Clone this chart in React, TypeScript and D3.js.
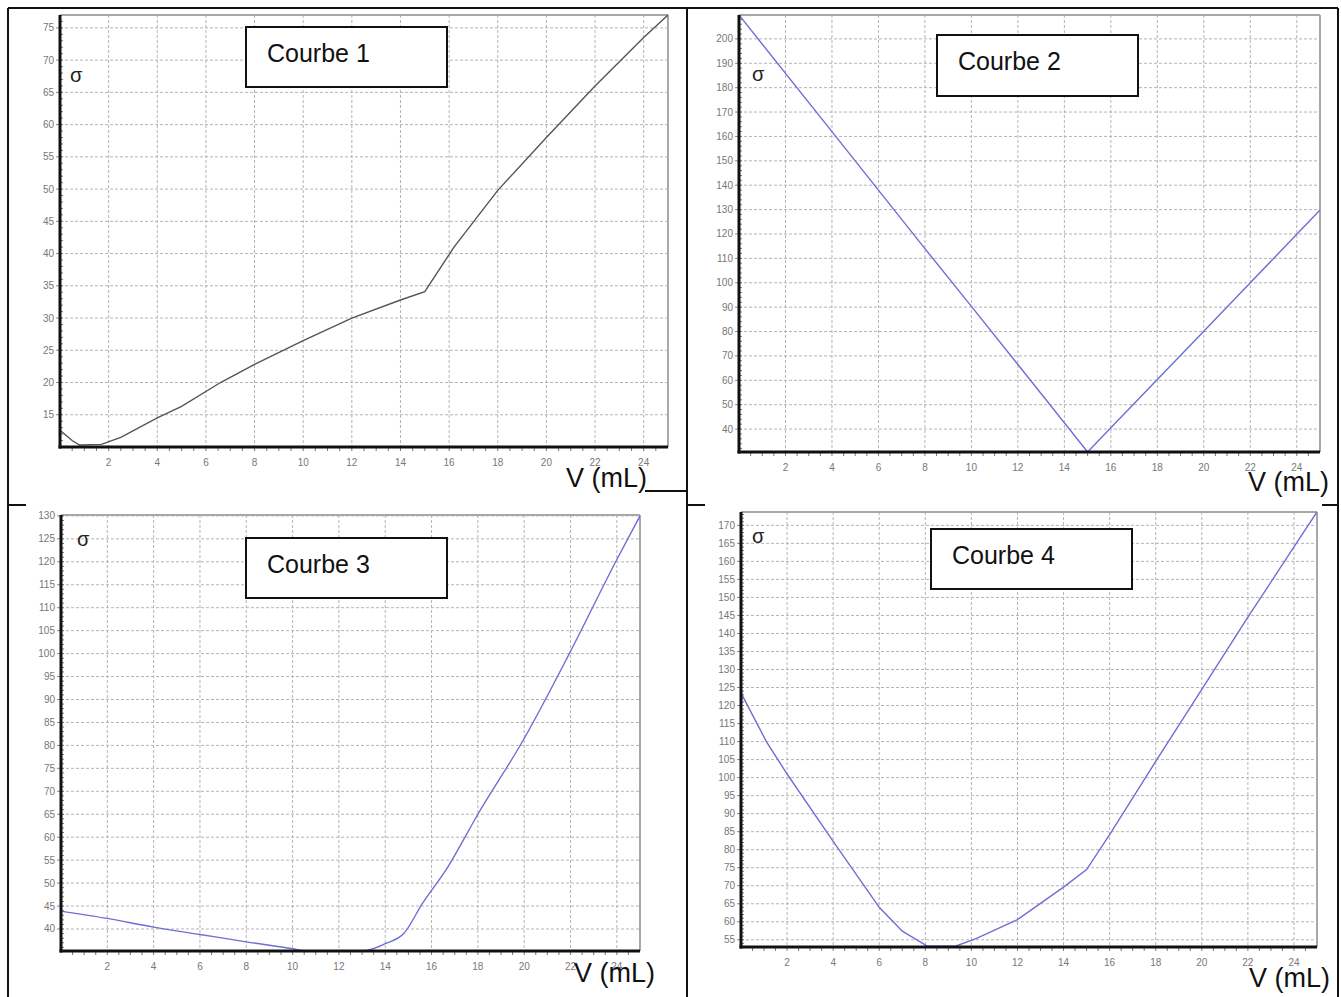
import React from 'react';
import * as d3 from 'd3';

const W = 1341;
const H = 997;

// V (mL) ticks shared by the 4 plots
const xTicks = [2, 4, 6, 8, 10, 12, 14, 16, 18, 20, 22, 24];

// Courbe 1
const v1 = [0, 0.5, 0.8, 1.7, 2.5, 4, 5, 6.6, 8, 10, 12, 14, 15, 16.2, 18, 20, 22, 24, 25];
const s1 = [12.6, 11, 10.3, 10.4, 11.5, 14.5, 16.3, 20, 22.8, 26.5, 30, 32.8, 34.1, 41, 49.8, 58, 66, 73.5, 77];
const yTicks1 = [15, 20, 25, 30, 35, 40, 45, 50, 55, 60, 65, 70, 75];

// Courbe 2
const v2 = [0, 4, 8, 10, 12, 15, 16, 18, 20, 22, 25];
const s2 = [209.8, 162, 114, 90.3, 66.5, 30.6, 40.5, 60.3, 80.1, 100, 129.8];
const yTicks2 = [40, 50, 60, 70, 80, 90, 100, 110, 120, 130, 140, 150, 160, 170, 180, 190, 200];

// Courbe 3
const v3 = [0, 2, 4, 6, 8, 10, 10.6, 13, 14, 14.8, 15.6, 16.7, 18, 20, 22, 24, 25];
const s3 = [43.9, 42.3, 40.4, 38.8, 37.2, 35.7, 35.2, 35.2, 36.8, 39, 45.5, 53.5, 65, 81.5, 100.5, 120.5, 130];
const yTicks3 = [40, 45, 50, 55, 60, 65, 70, 75, 80, 85, 90, 95, 100, 105, 110, 115, 120, 125, 130];

// Courbe 4
const v4 = [0, 1.1, 2, 4, 6, 7, 8.1, 9.3, 10.2, 12, 14, 15, 16, 18, 20, 22, 24, 25];
const s4 = [123.5, 110, 101, 82.3, 64, 57.4, 53.2, 53.2, 55.3, 60.6, 69.6, 74.5, 84.2, 104.5, 124.5, 144.5, 164, 173.7];
const yTicks4 = [55, 60, 65, 70, 75, 80, 85, 90, 95, 100, 105, 110, 115, 120, 125, 130, 135, 140, 145, 150, 155, 160, 165, 170];

const font = 'Liberation Sans, Arial, sans-serif';

type PanelProps = {
  id: string;
  box: { l: number; r: number; t: number; b: number };
  yDomain: [number, number];
  yTicks: number[];
  yMinor: number;
  v: number[];
  s: number[];
  color: string;
  smooth?: boolean;
  title: string;
  titleBox: { x: number; y: number; w: number; h: number };
  sigma: { x: number; y: number };
  vLabel: { x: number; y: number };
};

function Panel(p: PanelProps) {
  const { box } = p;
  const x = d3.scaleLinear().domain([0, 25]).range([box.l, box.r]);
  const y = d3.scaleLinear().domain(p.yDomain).range([box.b, box.t]);
  const line = d3
    .line<number>()
    .x((_, i) => x(p.v[i]))
    .y((d) => y(d))
    .curve(p.smooth ? d3.curveMonotoneX : d3.curveLinear);

  const xMinor = d3.range(0.5, 25, 0.5);
  const yMinor = d3.range(Math.ceil(p.yDomain[0] / p.yMinor) * p.yMinor, p.yDomain[1], p.yMinor);

  return (
    <g>
      <defs>
        <clipPath id={p.id}>
          <rect x={box.l} y={box.t - 1} width={box.r - box.l} height={box.b - box.t + 1} />
        </clipPath>
      </defs>
      {/* grid */}
      {xTicks.map((t) => (
        <line key={'gx' + t} x1={x(t)} x2={x(t)} y1={box.t} y2={box.b}
          stroke="#b4b4b4" strokeWidth={1} strokeDasharray="3,2" />
      ))}
      {p.yTicks.map((t) => (
        <line key={'gy' + t} x1={box.l} x2={box.r} y1={y(t)} y2={y(t)}
          stroke="#b4b4b4" strokeWidth={1} strokeDasharray="3,2" />
      ))}
      {/* frame */}
      <line x1={box.l} x2={box.r} y1={box.t} y2={box.t} stroke="#a8a8a8" strokeWidth={2} />
      <line x1={box.r} x2={box.r} y1={box.t} y2={box.b} stroke="#a8a8a8" strokeWidth={2} />
      {/* minor ticks */}
      {xMinor.map((t) => (
        <line key={'mx' + t} x1={x(t)} x2={x(t)} y1={box.b} y2={box.b + 4} stroke="#777" strokeWidth={1} />
      ))}
      {yMinor.map((t) => (
        <line key={'my' + t} x1={box.l} x2={box.l + 3} y1={y(t)} y2={y(t)} stroke="#777" strokeWidth={1} />
      ))}
      {/* tick labels */}
      {xTicks.map((t) => (
        <text key={'tx' + t} x={x(t)} y={box.b + 19} textAnchor="middle"
          fontFamily={font} fontSize={10} fill="#777">{t}</text>
      ))}
      {p.yTicks.map((t) => (
        <g key={'ty' + t}>
          <line x1={box.l - 4} x2={box.l} y1={y(t)} y2={y(t)} stroke="#888" strokeWidth={1} />
          <text x={box.l - 6} y={y(t) + 3.5} textAnchor="end"
            fontFamily={font} fontSize={10} fill="#777">{t}</text>
        </g>
      ))}
      {/* curve */}
      <path d={line(p.s) || ''} fill="none" stroke={p.color} strokeWidth={1.4} clipPath={`url(#${p.id})`} />
      {/* axes */}
      <line x1={box.l} x2={box.l} y1={box.t} y2={box.b + 1.5} stroke="#111" strokeWidth={3} />
      <line x1={box.l - 1.5} x2={box.r} y1={box.b} y2={box.b} stroke="#111" strokeWidth={3} />
      <text x={p.sigma.x} y={p.sigma.y} fontFamily={font} fontSize={20} fill="#222">σ</text>
      <rect x={p.titleBox.x} y={p.titleBox.y} width={p.titleBox.w} height={p.titleBox.h}
        fill="#fff" stroke="#111" strokeWidth={2} />
      <text x={p.titleBox.x + 21} y={p.titleBox.y + 35} fontFamily={font} fontSize={25} fill="#111">{p.title}</text>
      <text x={p.vLabel.x} y={p.vLabel.y} fontFamily={font} fontSize={27} fill="#111">V (mL)</text>
    </g>
  );
}

export default function App() {
  return (
    <svg width={W} height={H} style={{ position: 'absolute', left: 0, top: 0, background: '#fff' }}>
      <rect x={0} y={0} width={W} height={H} fill="#fff" />
      {/* table borders */}
      <g stroke="#111" strokeWidth={2}>
        <line x1={8} x2={1338} y1={8} y2={8} />
        <line x1={8} x2={8} y1={8} y2={H} />
        <line x1={687} x2={687} y1={8} y2={H} />
        <line x1={1338} x2={1338} y1={8} y2={H} />
        <line x1={8} x2={26} y1={505} y2={505} />
        <line x1={645} x2={687} y1={491} y2={491} />
        <line x1={687} x2={705} y1={505} y2={505} />
        <line x1={1322} x2={1338} y1={505} y2={505} />
      </g>
      <Panel id="c1" box={{ l: 60, r: 668, t: 15, b: 447 }} yDomain={[10, 77]} yTicks={yTicks1} yMinor={1}
        v={v1} s={s1} color="#555" title="Courbe 1"
        titleBox={{ x: 246, y: 27, w: 201, h: 60 }} sigma={{ x: 70, y: 82 }} vLabel={{ x: 566, y: 487 }} />
      <Panel id="c2" box={{ l: 739, r: 1320, t: 15, b: 452 }} yDomain={[30.6, 209.8]} yTicks={yTicks2} yMinor={2}
        v={v2} s={s2} color="#6e6ed6" title="Courbe 2"
        titleBox={{ x: 937, y: 35, w: 201, h: 61 }} sigma={{ x: 752, y: 81 }} vLabel={{ x: 1248, y: 491 }} />
      <Panel id="c3" box={{ l: 61, r: 640, t: 515, b: 951 }} yDomain={[35.2, 130.2]} yTicks={yTicks3} yMinor={1}
        v={v3} s={s3} color="#6e6ed6" smooth title="Courbe 3"
        titleBox={{ x: 246, y: 538, w: 201, h: 60 }} sigma={{ x: 77, y: 546 }} vLabel={{ x: 574, y: 982 }} />
      <Panel id="c4" box={{ l: 741, r: 1317, t: 512, b: 947 }} yDomain={[53, 173.7]} yTicks={yTicks4} yMinor={1}
        v={v4} s={s4} color="#6e6ed6" title="Courbe 4"
        titleBox={{ x: 931, y: 529, w: 201, h: 60 }} sigma={{ x: 752, y: 543 }} vLabel={{ x: 1249, y: 987 }} />
    </svg>
  );
}
